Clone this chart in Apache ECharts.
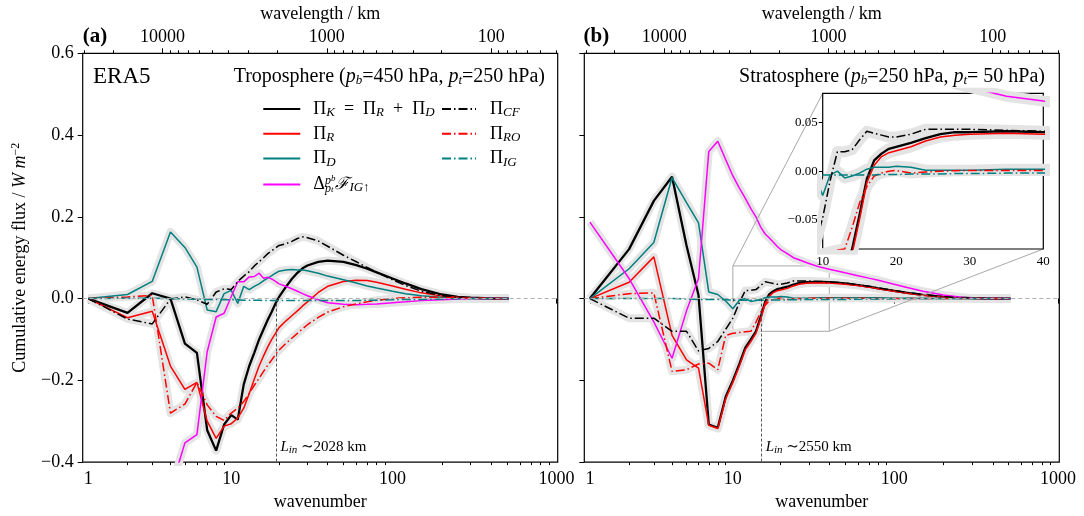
<!DOCTYPE html>
<html>
<head>
<meta charset="utf-8">
<script src="https://cdn.jsdelivr.net/npm/echarts@6/dist/echarts.min.js"></script>
<style>
  html, body { margin: 0; padding: 0; background: #fff; }
  #chart { width: 1084px; height: 516px; }
</style>
</head>
<body>
<div id="chart"></div>
<script>
// ---- data -------------------------------------------------------------
const wavenumbers = [1, 2, 3, 4, 5, 6, 7, 8, 9, 10, 11, 12, 13, 14, 15, 16, 17, 18, 19, 20,
  22, 24, 26, 28, 30, 35, 40, 50, 60, 70, 80, 100, 120, 150, 200, 250, 300, 400, 512];

// Troposphere (pb = 450 hPa, pt = 250 hPa), W m^-2
const tropoPiK = [0, -0.035, 0.013, 0.0, -0.11, -0.133, -0.322, -0.372, -0.308, -0.285, -0.296, -0.21, -0.165, -0.132, -0.1, -0.075, -0.052, -0.032, -0.012, 0.004,
  0.028, 0.048, 0.063, 0.074, 0.081, 0.09, 0.093, 0.09, 0.082, 0.073, 0.064, 0.049, 0.037, 0.023, 0.01, 0.004, 0.002, 0.0005, 0];
const tropoPiR = [0, -0.047, -0.031, -0.165, -0.222, -0.205, -0.3, -0.342, -0.312, -0.306, -0.292, -0.268, -0.232, -0.197, -0.165, -0.14, -0.118, -0.1, -0.085, -0.071,
  -0.055, -0.042, -0.03, -0.018, -0.008, 0.015, 0.03, 0.042, 0.045, 0.044, 0.04, 0.031, 0.023, 0.014, 0.006, 0.003, 0.001, 0, 0];
const tropoPiD = [0, 0.01, 0.042, 0.163, 0.125, 0.077, -0.028, -0.032, 0.012, 0.02, -0.012, 0.03, 0.022, 0.03, 0.036, 0.044, 0.05, 0.056, 0.062, 0.067,
  0.07, 0.071, 0.07, 0.07, 0.068, 0.062, 0.055, 0.046, 0.038, 0.031, 0.026, 0.018, 0.012, 0.007, 0.003, 0.001, 0.0005, 0, 0];
const tropoFlux = [null, null, null, -0.47, -0.353, -0.333, -0.13, -0.045, -0.036, 0.005, 0.041, 0.041, 0.053, 0.054, 0.062, 0.05, 0.052, 0.048, 0.042, 0.036,
  0.03, 0.024, 0.018, 0.012, 0.007, -0.003, -0.01, -0.014, -0.015, -0.014, -0.013, -0.01, -0.008, -0.005, -0.003, -0.001, 0, 0, 0];
const tropoPiCF = [0, -0.05, -0.062, -0.001, 0.004, -0.003, -0.014, 0.016, 0.024, 0.022, 0.042, 0.055, 0.066, 0.08, 0.09, 0.1, 0.11, 0.117, 0.124, 0.13,
  0.134, 0.14, 0.147, 0.151, 0.149, 0.141, 0.128, 0.106, 0.09, 0.076, 0.064, 0.046, 0.032, 0.018, 0.007, 0.003, 0.001, 0, 0];
const tropoPiRO = [0, 0.004, 0.008, -0.28, -0.258, -0.205, -0.26, -0.288, -0.298, -0.28, -0.268, -0.252, -0.232, -0.212, -0.195, -0.178, -0.163, -0.15, -0.137, -0.126,
  -0.11, -0.097, -0.085, -0.074, -0.064, -0.046, -0.033, -0.02, -0.013, -0.008, -0.004, 0, 0.002, 0.003, 0.003, 0.002, 0.001, 0.0005, 0];
const tropoPiIG = [0, 0.001, 0.001, 0, -0.001, -0.001, -0.002, -0.002, -0.003, -0.003, -0.003, -0.004, -0.004, -0.004, -0.004, -0.005, -0.005, -0.005, -0.005, -0.005,
  -0.005, -0.005, -0.005, -0.005, -0.005, -0.005, -0.005, -0.005, -0.005, -0.004, -0.004, -0.003, -0.002, -0.002, -0.001, -0.0005, 0, 0, 0];

// Stratosphere (pb = 250 hPa, pt = 50 hPa), W m^-2
const stratoPiK = [0, 0.121, 0.239, 0.298, 0.13, 0.008, -0.308, -0.316, -0.24, -0.2, -0.16, -0.12, -0.1, -0.08, -0.045, -0.008, 0.011, 0.018, 0.023, 0.025,
  0.029, 0.034, 0.038, 0.04, 0.04, 0.041, 0.04, 0.037, 0.033, 0.029, 0.025, 0.019, 0.014, 0.009, 0.004, 0.002, 0.001, 0, 0];
const stratoPiR = [0, 0.04, 0.102, -0.09, -0.15, -0.17, -0.31, -0.318, -0.245, -0.205, -0.165, -0.125, -0.105, -0.085, -0.05, -0.012, 0.006, 0.015, 0.019, 0.021,
  0.025, 0.031, 0.035, 0.037, 0.038, 0.039, 0.038, 0.035, 0.032, 0.028, 0.024, 0.018, 0.013, 0.008, 0.004, 0.002, 0.001, 0, 0];
const stratoPiD = [0, 0.073, 0.137, 0.296, 0.235, 0.185, 0.016, 0.01, -0.006, -0.025, -0.004, 0.0, -0.007, -0.005, -0.002, 0.002, 0.004, 0.004, 0.004, 0.005,
  0.004, 0.001, 0.001, 0.001, 0.001, 0.002, 0.002, 0.002, 0.002, 0.002, 0.002, 0.001, 0.001, 0.0005, 0, 0, 0, 0, 0];
const stratoFlux = [0.187, 0.049, -0.057, -0.146, -0.03, 0.049, 0.36, 0.385, 0.34, 0.3, 0.27, 0.245, 0.22, 0.2, 0.175, 0.158, 0.148, 0.138, 0.128, 0.12,
  0.11, 0.1, 0.095, 0.09, 0.086, 0.077, 0.072, 0.063, 0.056, 0.05, 0.045, 0.035, 0.027, 0.018, 0.009, 0.004, 0.001, 0, 0];
const stratoPiCF = [0, -0.048, -0.048, -0.08, -0.08, -0.128, -0.122, -0.105, -0.075, -0.048, -0.01, 0.02, 0.02, 0.022, 0.032, 0.041, 0.039, 0.037, 0.035, 0.035,
  0.038, 0.043, 0.043, 0.043, 0.043, 0.042, 0.041, 0.038, 0.034, 0.03, 0.026, 0.02, 0.015, 0.01, 0.005, 0.002, 0.001, 0, 0];
const stratoPiRO = [0, 0.012, 0.014, -0.178, -0.174, -0.16, -0.158, -0.174, -0.09, -0.085, -0.083, -0.081, -0.08, -0.058, -0.033, -0.016, -0.005, -0.002, 0, 0.0007,
  -0.002, -0.001, 0, 0.0005, 0.0007, 0.0007, 0.0007, 0.0007, 0.0006, 0.0005, 0.0004, 0.0003, 0.0002, 0, 0, 0, 0, 0, 0];
const stratoPiIG = [0, 0, 0, 0, -0.001, -0.002, -0.002, -0.002, -0.003, -0.004, -0.004, -0.004, -0.004, -0.004, -0.004, -0.004, -0.004, -0.0035, -0.0035, -0.0035,
  -0.003, -0.003, -0.003, -0.0025, -0.0025, -0.002, -0.002, -0.002, -0.0015, -0.001, -0.001, -0.0005, 0, 0, 0, 0, 0, 0, 0];

// axis ticks
const majorWavenumbers = [1, 10, 100, 1000];
const minorWavenumbers = [2, 3, 4, 5, 6, 7, 8, 9, 20, 30, 40, 50, 60, 70, 80, 90, 200, 300, 400, 500, 600, 700, 800, 900];
const majorWavelengths = [10000, 1000, 100];
const minorWavelengths = [30000, 20000, 9000, 8000, 7000, 6000, 5000, 4000, 3000, 2000,
  900, 800, 700, 600, 500, 400, 300, 200, 90, 80, 70, 60, 50, 40];
const insetYTicks = [-0.05, 0, 0.05];
const tropoInjectionKm = 2028;
const stratoInjectionKm = 2550;

// ---- helpers ----------------------------------------------------------
const CIRC = 40030;                       // Earth's circumference, km
const SERIF = "'Liberation Serif', 'DejaVu Serif', serif";
// horizontal coordinate: log10 of the total wavenumber sqrt(n(n+1))
const toU = n => Math.log10(Math.sqrt(n * (n + 1)));
const lamToU = lam => Math.log10(CIRC / lam);
const U_MIN = 0.1164, U_MAX = 3.0075;
const key = v => v.toFixed(5);

const bottomLabels = new Map(majorWavenumbers.map(n => [key(toU(n)), String(n)]));
const topLabels = new Map(majorWavelengths.map(l => [key(lamToU(l)), String(l)]));
const fmtY = v => (v < -1e-9 ? '\u2212' : '') + Math.abs(v).toFixed(1);
const fmtInsetY = v => (v < -1e-9 ? '\u2212' : '') + Math.abs(v).toFixed(2);

const DASHDOT = [9, 3, 1.5, 3];
const seriesDefs = [
  { key: 'PiK', color: '#000000', width: 2.3, type: 'solid', spread: true },
  { key: 'PiR', color: '#ff0000', width: 1.5, type: 'solid', spread: true },
  { key: 'PiD', color: '#008080', width: 1.5, type: 'solid', spread: true },
  { key: 'Flux', color: '#ff00ff', width: 1.5, type: 'solid', spread: true },
  { key: 'PiCF', color: '#000000', width: 1.5, type: DASHDOT, spread: true },
  { key: 'PiRO', color: '#ff0000', width: 1.5, type: DASHDOT, spread: true },
  { key: 'PiIG', color: '#008080', width: 1.5, type: DASHDOT, spread: false }
];
const tropo = { PiK: tropoPiK, PiR: tropoPiR, PiD: tropoPiD, Flux: tropoFlux, PiCF: tropoPiCF, PiRO: tropoPiRO, PiIG: tropoPiIG };
const strato = { PiK: stratoPiK, PiR: stratoPiR, PiD: stratoPiD, Flux: stratoFlux, PiCF: stratoPiCF, PiRO: stratoPiRO, PiIG: stratoPiIG };

const tickFont = { fontSize: 18, fontFamily: SERIF, color: '#000' };

function panelXAxes(gridIndex) {
  const base = { gridIndex, type: 'value', min: U_MIN, max: U_MAX, axisLine: { show: false }, splitLine: { show: false } };
  const tick = (vals, len) => ({ show: true, length: len, customValues: vals, lineStyle: { color: '#000', width: 1 } });
  return [
    Object.assign({}, base, {
      position: 'bottom',
      axisTick: tick(majorWavenumbers.map(toU), 5),
      axisLabel: Object.assign({ show: true, margin: 8, customValues: majorWavenumbers.map(toU), formatter: v => bottomLabels.get(key(v)) || '' }, tickFont),
      name: 'wavenumber', nameLocation: 'middle', nameGap: 29,
      nameTextStyle: { fontSize: 18, fontFamily: SERIF, color: '#000' }
    }),
    Object.assign({}, base, { position: 'bottom', axisTick: tick(minorWavenumbers.map(toU), 3), axisLabel: { show: false } }),
    Object.assign({}, base, {
      position: 'top',
      axisTick: tick(majorWavelengths.map(lamToU), 5),
      axisLabel: Object.assign({ show: true, margin: 7, customValues: majorWavelengths.map(lamToU), formatter: v => topLabels.get(key(v)) || '' }, tickFont),
      name: 'wavelength / km', nameLocation: 'middle', nameGap: 29,
      nameTextStyle: { fontSize: 18, fontFamily: SERIF, color: '#000' }
    }),
    Object.assign({}, base, { position: 'top', axisTick: tick(minorWavelengths.map(lamToU), 3), axisLabel: { show: false } })
  ];
}

function panelYAxis(gridIndex, withLabels) {
  const ax = {
    gridIndex, type: 'value', min: -0.4, max: 0.6, interval: 0.2,
    axisLine: { show: false }, splitLine: { show: false },
    axisTick: { show: true, length: 5, lineStyle: { color: '#000', width: 1 } },
    axisLabel: Object.assign({ show: withLabels, margin: 9, formatter: fmtY }, tickFont)
  };
  if (withLabels) {
    ax.name = '{n|Cumulative energy flux / }{i|W m}{sup|\u22122}';
    ax.nameLocation = 'middle';
    ax.nameGap = 51;
    ax.nameRotate = 90;
    ax.nameTextStyle = {
      fontSize: 18, fontFamily: SERIF, color: '#000',
      rich: {
        n: { fontSize: 18, fontFamily: SERIF, color: '#000', lineHeight: 22 },
        i: { fontSize: 18, fontFamily: SERIF, fontStyle: 'italic', color: '#000', lineHeight: 22 },
        sup: { fontSize: 12, fontFamily: SERIF, color: '#000', lineHeight: 9, verticalAlign: 'top' }
      }
    };
  }
  return ax;
}

function makeSeries(data, xi, yi, xOf, z, spreadWidth) {
  const bands = [], lines = [];
  seriesDefs.forEach(def => {
    const pts = wavenumbers.map((n, i) => [xOf(n), data[def.key][i]]);
    if (def.spread) {
      // light grey spread under each curve
      bands.push({
        type: 'line', name: def.key + ' spread', xAxisIndex: xi, yAxisIndex: yi, data: pts,
        symbol: 'none', silent: true, z, clip: true, legendHoverLink: false,
        lineStyle: { color: '#e4e4e4', width: spreadWidth, cap: 'butt', join: 'round' }
      });
    }
    lines.push({
      type: 'line', name: def.key, xAxisIndex: xi, yAxisIndex: yi, data: pts,
      symbol: 'none', showSymbol: false, silent: true, z: z + 1, clip: true,
      lineStyle: { color: def.color, width: def.width, type: def.type },
      itemStyle: { color: def.color }
    });
  });
  return { bands, lines, all: bands.concat(lines) };
}

const zeroItem = { yAxis: 0, lineStyle: { color: '#b0b0b0', type: [4, 3], width: 1 } };
function injectionMarks(km) {
  const u = Math.log10(CIRC / km);
  return {
    markLine: {
      silent: true, symbol: ['none', 'none'], label: { show: false },
      lineStyle: { color: '#444', type: [3, 2], width: 0.9 },
      data: [zeroItem, [{ coord: [u, 0] }, { coord: [u, -0.4] }]]
    },
    markPoint: {
      silent: true, symbol: 'circle', symbolSize: 0,
      data: [{ coord: [u, -0.362] }],
      label: {
        show: true, position: 'right', distance: 4,
        formatter: '{i|L}{s|in}{n| \u223C' + km + ' km}',
        rich: {
          i: { fontSize: 15, fontFamily: SERIF, fontStyle: 'italic', color: '#000', lineHeight: 18 },
          s: { fontSize: 11, fontFamily: SERIF, fontStyle: 'italic', color: '#000', lineHeight: 8, verticalAlign: 'bottom' },
          n: { fontSize: 15, fontFamily: SERIF, color: '#000', lineHeight: 18 }
        }
      }
    }
  };
}

const tropoSet = makeSeries(tropo, 0, 0, toU, 2, 8);
const stratoSet = makeSeries(strato, 4, 1, toU, 2, 8);
const insetSet = makeSeries(strato, 8, 2, n => n, 12, 11);
// decorations hang on the first curve of each panel
const tropoMain = tropoSet.lines[0], stratoMain = stratoSet.lines[0], insetMain = insetSet.lines[0];
Object.assign(tropoMain, injectionMarks(tropoInjectionKm));
Object.assign(stratoMain, injectionMarks(stratoInjectionKm));
stratoMain.markArea = {
  silent: true,
  itemStyle: { color: 'rgba(0,0,0,0)', borderColor: '#a8a8a8', borderWidth: 1 },
  data: [[{ coord: [toU(10), -0.08] }, { coord: [toU(40), 0.08] }]]
};
insetMain.markLine = { silent: true, symbol: ['none', 'none'], label: { show: false }, data: [zeroItem] };
const series = [...tropoSet.all, ...stratoSet.all, ...insetSet.all];

// legend labels
const legendRich = {
  n: { fontSize: 18, fontFamily: SERIF, color: '#000', lineHeight: 20 },
  s: { fontSize: 13, fontFamily: SERIF, fontStyle: 'italic', color: '#000', lineHeight: 9, verticalAlign: 'bottom' },
  f: { fontSize: 17, fontFamily: "'DejaVu Serif', serif", fontStyle: 'italic', color: '#000', lineHeight: 20 },
  hp: { fontSize: 12, fontFamily: SERIF, fontStyle: 'italic', color: '#000', lineHeight: 9, verticalAlign: 'top' },
  hb: { fontSize: 9, fontFamily: SERIF, fontStyle: 'italic', color: '#000', lineHeight: 15, verticalAlign: 'top' },
  lp: { fontSize: 12, fontFamily: SERIF, fontStyle: 'italic', color: '#000', lineHeight: 9, verticalAlign: 'bottom', width: 0 },
  lt: { fontSize: 9, fontFamily: SERIF, fontStyle: 'italic', color: '#000', lineHeight: 3, verticalAlign: 'bottom', width: 0 },
  g1: { width: 8, lineHeight: 20 },
  g2: { width: 9, lineHeight: 20 }
};
const legendText = {
  PiK: '{g1| }{n|\u03A0}{s|K}{n|  =  \u03A0}{s|R}{n|  +  \u03A0}{s|D}',
  PiR: '{g1| }{n|\u03A0}{s|R}',
  PiD: '{g1| }{n|\u03A0}{s|D}',
  Flux: '{g1| }{n|\u0394}{lp|p}{hp|p}{lt|t}{hb|b}{f|\u2131}{s|IG\u2191}',
  PiCF: '{g2| }{n|\u03A0}{s|CF}',
  PiRO: '{g2| }{n|\u03A0}{s|RO}',
  PiIG: '{g2| }{n|\u03A0}{s|IG}'
};
const legendBase = {
  orient: 'vertical', top: 100, padding: 0, itemHeight: 14, itemGap: 5.8,
  selectedMode: false, formatter: name => legendText[name],
  itemStyle: { color: 'rgba(0,0,0,0)', borderColor: 'rgba(0,0,0,0)', borderWidth: 0 },
  textStyle: { fontSize: 18, fontFamily: SERIF, color: '#000', rich: legendRich }
};

const option = {
  animation: false,
  backgroundColor: '#ffffff',
  textStyle: { fontFamily: SERIF },
  grid: [
    { left: 82.7, top: 53.3, width: 475, height: 411, show: true, borderColor: '#000', borderWidth: 1.2, backgroundColor: 'rgba(0,0,0,0)' },
    { left: 584.3, top: 53.3, width: 475, height: 411, show: true, borderColor: '#000', borderWidth: 1.2, backgroundColor: 'rgba(0,0,0,0)' },
    { left: 822.7, top: 93.3, width: 220.6, height: 155.7, show: true, borderColor: '#000', borderWidth: 1.2, backgroundColor: '#ffffff', z: 10 }
  ],
  xAxis: [
    ...panelXAxes(0),
    ...panelXAxes(1),
    {
      gridIndex: 2, type: 'value', min: 10, max: 40, interval: 10, z: 11,
      axisLine: { show: false }, splitLine: { show: false },
      axisTick: { show: true, length: 4, lineStyle: { color: '#000' } },
      axisLabel: { margin: 6, fontSize: 13, fontFamily: SERIF, color: '#000' }
    }
  ],
  yAxis: [
    panelYAxis(0, true),
    panelYAxis(1, false),
    {
      gridIndex: 2, type: 'value', min: -0.08, max: 0.08, z: 11,
      axisLine: { show: false }, splitLine: { show: false },
      axisTick: { show: true, length: 4, customValues: insetYTicks, lineStyle: { color: '#000' } },
      axisLabel: { margin: 5, customValues: insetYTicks, formatter: fmtInsetY, fontSize: 13, fontFamily: SERIF, color: '#000' }
    }
  ],
  legend: [
    Object.assign({}, legendBase, { left: 262.3, itemWidth: 37, data: ['PiK', 'PiR', 'PiD', 'Flux'] }),
    Object.assign({}, legendBase, { left: 441, itemWidth: 34, data: ['PiCF', 'PiRO', 'PiIG'] })
  ],
  series
};

const chart = echarts.init(document.getElementById('chart'), null, { renderer: 'canvas' });
chart.setOption(option);

// texts and the lines tying the zoom box to the inset
const stratoIdx = series.indexOf(stratoMain), insetIdx = series.indexOf(insetMain);
const a1 = chart.convertToPixel({ seriesIndex: stratoIdx }, [toU(10), 0.08]);
const b1 = chart.convertToPixel({ seriesIndex: insetIdx }, [10, 0.08]);
const a2 = chart.convertToPixel({ seriesIndex: stratoIdx }, [toU(40), -0.08]);
const b2 = chart.convertToPixel({ seriesIndex: insetIdx }, [40, -0.08]);

const titleRich = {
  n: { fontSize: 20, fontFamily: SERIF, fill: '#000', lineHeight: 22 },
  i: { fontSize: 20, fontFamily: SERIF, fontStyle: 'italic', fill: '#000', lineHeight: 22 },
  s: { fontSize: 13, fontFamily: SERIF, fontStyle: 'italic', fill: '#000', lineHeight: 9, verticalAlign: 'bottom' }
};
chart.setOption({
  graphic: [
    { type: 'text', x: 82.7, y: 36.5, silent: true, style: { text: '(a)', fontSize: 21, fontWeight: 'bold', fontFamily: SERIF, fill: '#000', verticalAlign: 'middle' } },
    { type: 'text', x: 583.5, y: 36.5, silent: true, style: { text: '(b)', fontSize: 21, fontWeight: 'bold', fontFamily: SERIF, fill: '#000', verticalAlign: 'middle' } },
    { type: 'text', x: 93, y: 76.5, silent: true, style: { text: 'ERA5', fontSize: 23, fontFamily: SERIF, fill: '#000', verticalAlign: 'middle' } },
    { type: 'text', x: 545, y: 76.5, silent: true, style: { text: '{n|Troposphere (}{i|p}{s|b}{n|=450 hPa, }{i|p}{s|t}{n|=250 hPa)}', rich: titleRich, align: 'right', verticalAlign: 'middle' } },
    { type: 'text', x: 1045, y: 76.5, silent: true, style: { text: '{n|Stratosphere (}{i|p}{s|b}{n|=250 hPa, }{i|p}{s|t}{n|= 50 hPa)}', rich: titleRich, align: 'right', verticalAlign: 'middle' } },
    { type: 'line', silent: true, z: 9, shape: { x1: a1[0], y1: a1[1], x2: b1[0], y2: b1[1] }, style: { stroke: '#a8a8a8', lineWidth: 1 } },
    { type: 'line', silent: true, z: 9, shape: { x1: a2[0], y1: a2[1], x2: b2[0], y2: b2[1] }, style: { stroke: '#a8a8a8', lineWidth: 1 } }
  ]
});
</script>
</body>
</html>
